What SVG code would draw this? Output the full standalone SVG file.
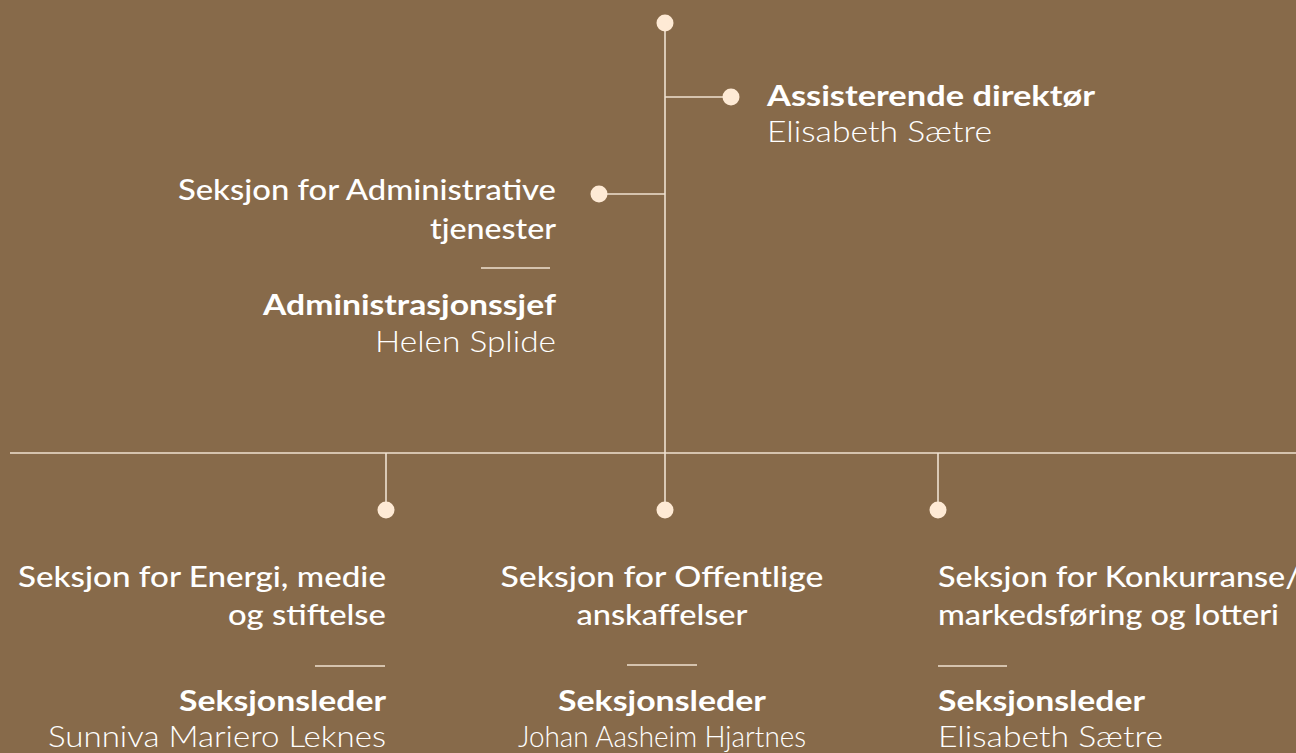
<svg xmlns="http://www.w3.org/2000/svg" width="1296" height="753" viewBox="0 0 1296 753">
<style>
.ln{stroke:#EFE2D1;stroke-width:1.6;fill:none}
.dot{fill:#FEEAD5}
.sep{stroke:#EFE2D1;stroke-width:1.6}
text{font-family:Lato,"Noto Sans","Liberation Sans",sans-serif;fill:#FFFFFF;font-size:29px}
.sec{font-weight:500}
.ttl{font-weight:700}
.nm{font-weight:300}
.r{text-anchor:end}
.m{text-anchor:middle}
</style>
<rect width="1296" height="753" fill="#876A4A"/>
<g id="connectors">
<line class="ln" x1="665" y1="23" x2="665" y2="453"/>
<line class="ln" x1="665" y1="97" x2="731" y2="97"/>
<line class="ln" x1="599" y1="194" x2="665" y2="194"/>
<line class="ln" x1="10" y1="453" x2="1296" y2="453"/>
<line class="ln" x1="386" y1="453" x2="386" y2="510"/>
<line class="ln" x1="665" y1="453" x2="665" y2="510"/>
<line class="ln" x1="938" y1="453" x2="938" y2="510"/>
</g>
<g id="root"><circle class="dot" cx="665" cy="23" r="8.5"/></g>
<g id="assisterende">
<circle class="dot" cx="731" cy="97" r="8.5"/>
<text class="ttl" x="767" y="106" textLength="328" lengthAdjust="spacingAndGlyphs">Assisterende direktør</text>
<text class="nm" x="767" y="142" textLength="225" lengthAdjust="spacingAndGlyphs">Elisabeth Sætre</text>
</g>
<g id="administrative">
<circle class="dot" cx="599" cy="194" r="8.5"/>
<text class="sec r" x="556" y="200" textLength="378" lengthAdjust="spacingAndGlyphs">Seksjon for Administrative</text>
<text class="sec r" x="556" y="239" textLength="126" lengthAdjust="spacingAndGlyphs">tjenester</text>
<line class="sep" x1="481" y1="268" x2="550" y2="268"/>
<text class="ttl r" x="556" y="315" textLength="293" lengthAdjust="spacingAndGlyphs">Administrasjonssjef</text>
<text class="nm r" x="556" y="352" textLength="181" lengthAdjust="spacingAndGlyphs">Helen Splide</text>
</g>
<g id="energi">
<circle class="dot" cx="386" cy="510" r="8.5"/>
<text class="sec r" x="386" y="587" textLength="368" lengthAdjust="spacingAndGlyphs">Seksjon for Energi, medie</text>
<text class="sec r" x="386" y="625" textLength="158" lengthAdjust="spacingAndGlyphs">og stiftelse</text>
<line class="sep" x1="315" y1="666" x2="385" y2="666"/>
<text class="ttl r" x="386" y="711" textLength="207" lengthAdjust="spacingAndGlyphs">Seksjonsleder</text>
<text class="nm r" x="386" y="747" textLength="338" lengthAdjust="spacingAndGlyphs">Sunniva Mariero Leknes</text>
</g>
<g id="offentlige">
<circle class="dot" cx="665" cy="510" r="8.5"/>
<text class="sec m" x="662" y="587" textLength="323" lengthAdjust="spacingAndGlyphs">Seksjon for Offentlige</text>
<text class="sec m" x="662" y="625" textLength="171" lengthAdjust="spacingAndGlyphs">anskaffelser</text>
<line class="sep" x1="627" y1="665" x2="697" y2="665"/>
<text class="ttl m" x="662" y="711" textLength="208" lengthAdjust="spacingAndGlyphs">Seksjonsleder</text>
<text class="nm m" x="662" y="747" textLength="288" lengthAdjust="spacingAndGlyphs">Johan Aasheim Hjartnes</text>
</g>
<g id="konkurranse">
<circle class="dot" cx="938" cy="510" r="8.5"/>
<text class="sec" x="938" y="587" textLength="362" lengthAdjust="spacingAndGlyphs">Seksjon for Konkurranse/</text>
<text class="sec" x="938" y="625" textLength="341" lengthAdjust="spacingAndGlyphs">markedsføring og lotteri</text>
<line class="sep" x1="938" y1="666" x2="1007" y2="666"/>
<text class="ttl" x="938" y="711" textLength="207" lengthAdjust="spacingAndGlyphs">Seksjonsleder</text>
<text class="nm" x="938" y="747" textLength="225" lengthAdjust="spacingAndGlyphs">Elisabeth Sætre</text>
</g>
</svg>
